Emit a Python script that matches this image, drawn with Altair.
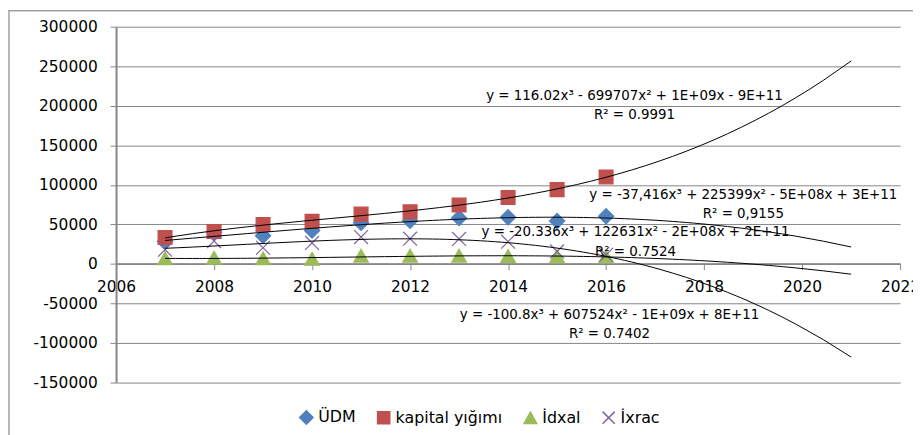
import altair as alt
import pandas as pd

# ---- data ----
years = [2007, 2008, 2009, 2010, 2011, 2012, 2013, 2014, 2015, 2016]
series_names = ["ÜDM", "kapital yığımı", "İdxal", "İxrac"]
udm = [28400, 40100, 35600, 42400, 52000, 54700, 58200, 59000, 54400, 60400]
kapital = [33400, 41000, 50000, 54000, 63000, 66000, 74500, 84000, 94000, 110000]
idxal = [6900, 7800, 6900, 6300, 10300, 10300, 10300, 9800, 9400, 9400]
ixrac = [18000, 29000, 20500, 26600, 34000, 32000, 31600, 28200, 15800, 11500]

colors = ["#4F81BD", "#C0504D", "#9BBB59", "#8064A2"]
fills = ["#4F81BD", "#C0504D", "#9BBB59", "transparent"]
shapes = [
    "M0,-1.1L1.1,0L0,1.1L-1.1,0Z",
    "square",
    "M0,-0.95L1.05,0.9L-1.05,0.9Z",
    "M-1,-1L1,1M1,-1L-1,1",
]

x_ticks = [2006, 2008, 2010, 2012, 2014, 2016, 2018, 2020, 2022]
y_ticks = [-150000, -100000, -50000, 0, 50000, 100000, 150000, 200000, 250000, 300000]

# trendline equation labels (text, position in data units)
label_text = [
    "y = 116.02x³ - 699707x² + 1E+09x - 9E+11", "R² = 0.9991",
    "y = -37,416x³ + 225399x² - 5E+08x + 3E+11", "R² = 0,9155",
    "y = -20.336x³ + 122631x² - 2E+08x + 2E+11", "R² = 0.7524",
    "y = -100.8x³ + 607524x² - 1E+09x + 8E+11", "R² = 0.7402",
]
label_x = [2016.58, 2016.58, 2018.80, 2018.80, 2016.60, 2016.60, 2016.07, 2016.07]
label_y = [212000, 188400, 86900, 63100, 40500, 15400, -64800, -88600]

rows = []
for name, vals in zip(series_names, [udm, kapital, idxal, ixrac]):
    for yr, v in zip(years, vals):
        rows.append({"year": yr, "value": v, "series": name})
df = pd.DataFrame(rows)
labels_df = pd.DataFrame({"x": label_x, "y": label_y, "text": label_text})

FONT = "DejaVu Sans"
xscale = alt.Scale(domain=[2006, 2022], nice=False, zero=False)
yscale = alt.Scale(domain=[-150000, 300000], nice=False, zero=False)
x_axis = alt.Axis(values=x_ticks, labelExpr="'' + datum.value", title=None, offset=-120,
                  grid=False, tickSize=6, labelPadding=10)
y_axis = alt.Axis(values=y_ticks, labelExpr="'' + datum.value", title=None, grid=True,
                  tickSize=6, labelPadding=13)

legend = alt.Legend(
    title=None, orient="none", legendX=184, legendY=386, direction="horizontal",
    labelFont=FONT, labelFontSize=16, labelColor="black", symbolSize=150,
    symbolStrokeWidth=1.5, columnPadding=18, labelOffset=4, padding=0,
)

frame = alt.Chart(pd.DataFrame({"a": [0]})).mark_rect(
    fill="transparent", stroke="#a0a0a0", strokeWidth=1.5
).encode(
    x=alt.value(-108), x2=alt.value(812), y=alt.value(-16), y2=alt.value(420)
)

points = alt.Chart(df).mark_point(size=196, strokeWidth=1.2, opacity=1).encode(
    x=alt.X("year:Q", scale=xscale, axis=x_axis),
    y=alt.Y("value:Q", scale=yscale, axis=y_axis),
    shape=alt.Shape("series:N", scale=alt.Scale(domain=series_names, range=shapes), legend=legend),
    fill=alt.Fill("series:N", scale=alt.Scale(domain=series_names, range=fills), legend=legend),
    stroke=alt.Stroke("series:N", scale=alt.Scale(domain=series_names, range=colors), legend=legend),
)

trend = alt.Chart(df).transform_regression(
    "year", "value", method="poly", order=3, groupby=["series"], extent=[2007, 2021]
).mark_line(color="black", strokeWidth=1).encode(
    x=alt.X("year:Q", scale=xscale, axis=x_axis),
    y=alt.Y("value:Q", scale=yscale, axis=y_axis),
    detail="series:N",
)

labels = alt.Chart(labels_df).mark_text(
    font=FONT, fontSize=13.5, color="black", align="center", baseline="middle"
).encode(
    x=alt.X("x:Q", scale=xscale, axis=x_axis),
    y=alt.Y("y:Q", scale=yscale, axis=y_axis),
    text="text:N",
)

chart = alt.layer(frame, points, trend, labels).properties(
    width=791, height=359,
    padding={"left": 109, "top": 17, "right": 13, "bottom": 51},
    autosize=alt.AutoSizeParams(type="none"),
).configure_view(stroke=None).configure_axis(
    domainColor="#868686", domainWidth=2, tickColor="#868686", tickWidth=1,
    gridColor="#868686", gridWidth=1, labelFont=FONT, labelFontSize=15.5,
    labelColor="black", labelOverlap=False, labelFlush=False, labelBound=False,
)

chart.save("out.html", embed_options={"renderer": "svg", "actions": False})
